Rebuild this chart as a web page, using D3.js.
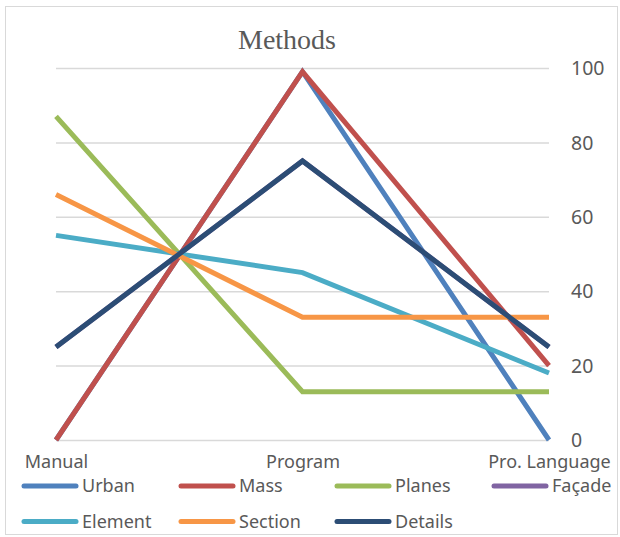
<!DOCTYPE html>
<html>
<head>
<meta charset="utf-8">
<script src="https://cdn.jsdelivr.net/npm/d3@7"></script>
<style>
  html, body { margin: 0; padding: 0; background: #fff; }
  svg { display: block; }
</style>
</head>
<body>
<svg id="chart" width="620" height="537"></svg>
<script>
// Categories along the x axis
const categories = ["Manual", "Program", "Pro. Language"];

// Series values per category
const urban   = [0, 99, 0];
const mass    = [0, 99, 20];
const planes  = [87, 13, 13];
const facade  = [25, 75, 25];
const element = [55, 45, 18];
const section = [66, 33, 33];
const details = [25, 75, 25];

const seriesNames = ["Urban", "Mass", "Planes", "Façade", "Element", "Section", "Details"];
const seriesValues = [urban, mass, planes, facade, element, section, details];
const seriesColors = ["#4f81bd", "#c0504d", "#9bbb59", "#8064a2", "#4bacc6", "#f79646", "#2c4d75"];

// Value axis ticks
const yTicks = [0, 20, 40, 60, 80, 100];

const svg = d3.select("#chart");
const W = 620, H = 537;
const plotLeft = 56, plotRight = 549, plotTop = 68, plotBottom = 440;
const textColor = "#595959";
const font = "'Noto Sans', 'Open Sans', sans-serif";

// Outer frame
svg.append("rect")
  .attr("x", 5.5).attr("y", 6.5)
  .attr("width", W - 8).attr("height", H - 9)
  .attr("fill", "#fff")
  .attr("stroke", "#d9d9d9")
  .attr("stroke-width", 1);

const x = d3.scalePoint().domain(categories).range([plotLeft, plotRight]);
const y = d3.scaleLinear().domain([0, 100]).range([plotBottom, plotTop]);

// Title
svg.append("text")
  .attr("x", 287).attr("y", 49)
  .attr("text-anchor", "middle")
  .attr("font-family", "'Liberation Serif', 'Times New Roman', serif")
  .attr("font-size", 28)
  .attr("fill", textColor)
  .text("Methods");

// Horizontal gridlines
const grid = svg.append("g")
  .attr("transform", `translate(${plotLeft},0)`)
  .call(d3.axisLeft(y).tickValues(yTicks).tickSize(-(plotRight - plotLeft)).tickFormat(""));
grid.select(".domain").remove();
grid.selectAll("line").attr("stroke", "#d9d9d9").attr("stroke-width", 1.5);

// Value labels on the right
const yAxis = svg.append("g")
  .attr("transform", `translate(${plotRight + 22},0)`)
  .call(d3.axisRight(y).tickValues(yTicks).tickSize(0).tickPadding(0));
yAxis.select(".domain").remove();
yAxis.selectAll("text")
  .attr("font-family", font)
  .attr("font-size", 19.5)
  .attr("dy", "0.34em")
  .attr("fill", textColor);

// Category labels
const xAxis = svg.append("g")
  .attr("transform", `translate(0,${plotBottom})`)
  .call(d3.axisBottom(x).tickSize(0).tickPadding(10));
xAxis.select(".domain").remove();
xAxis.selectAll("text")
  .attr("font-family", font)
  .attr("font-size", 18)
  .attr("fill", textColor)
  .attr("dy", "1em");

// Series lines
const line = d3.line()
  .x((d, i) => x(categories[i]))
  .y(d => y(d));

svg.append("g")
  .selectAll("path")
  .data(seriesValues)
  .join("path")
  .attr("d", d => line(d))
  .attr("fill", "none")
  .attr("stroke", (d, i) => seriesColors[i])
  .attr("stroke-width", 5)
  .attr("stroke-linejoin", "miter")
  .attr("stroke-linecap", "butt");

// Legend
const legendPos = [
  [22, 486], [179, 486], [335, 486], [492, 486],
  [22, 521.5], [179, 521.5], [335, 521.5]
];
const legend = svg.append("g")
  .selectAll("g")
  .data(seriesNames)
  .join("g")
  .attr("transform", (d, i) => `translate(${legendPos[i][0]},${legendPos[i][1]})`);
legend.append("line")
  .attr("x1", 2).attr("x2", 54)
  .attr("y1", 0).attr("y2", 0)
  .attr("stroke", (d, i) => seriesColors[i])
  .attr("stroke-width", 5)
  .attr("stroke-linecap", "round");
legend.append("text")
  .attr("x", 60).attr("y", 0)
  .attr("dy", "0.35em")
  .attr("font-family", font)
  .attr("font-size", 18)
  .attr("fill", textColor)
  .text(d => d);
</script>
</body>
</html>
